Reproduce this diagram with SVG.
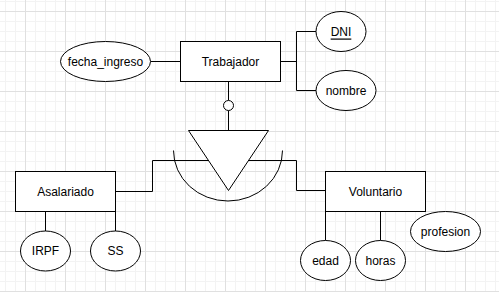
<svg xmlns="http://www.w3.org/2000/svg" width="499" height="292" viewBox="0 0 499 292">
<defs>
<pattern id="grid" patternUnits="userSpaceOnUse" x="25" y="11" width="40" height="40">
<path d="M10.5 0V40M20.5 0V40M30.5 0V40M0 10.5H40M0 20.5H40M0 30.5H40" stroke="#f3f3f3" stroke-width="1" fill="none"/>
<path d="M0.5 0V40M0 0.5H40" stroke="#e0e0e0" stroke-width="1" fill="none"/>
</pattern>
</defs>
<style>
.shape{fill:#fff;stroke:#000;stroke-width:1}
.line{fill:none;stroke:#000;stroke-width:1}
text{font-family:"Liberation Sans",Arial,sans-serif;font-size:12px;fill:#000;text-anchor:middle;dominant-baseline:central}
</style>
<rect width="499" height="292" fill="#fff"/>
<rect width="499" height="292" fill="url(#grid)"/>
<g id="connectors">
<path class="line" d="M150.5 61.5H180.5"/>
<path class="line" d="M280.5 61.5H296.5M296.5 31.5V90.5M296.5 31.5H316.5M296.5 90.5H316.5"/>
<path class="line" d="M228.5 81.5V100.5M228.5 110.5V130.5"/>
<path class="line" d="M115.5 191.5H152.5V160.5H208"/>
<path class="line" d="M249 160.5H296.5V190.5H325.5"/>
<path class="line" d="M45.5 211.5V231M115.5 211.5V231"/>
<path class="line" d="M325.5 211.5V240.5M380.5 211.5V240.5"/>
</g>
<g id="inheritance">
<circle class="shape" cx="228.5" cy="105.5" r="5"/>
<path class="line" d="M173.5 150.5A54.5 50.5 0 0 0 282.5 150.5"/>
<path class="shape" d="M188.5 130.5H268.5L228.5 190.5Z"/>
</g>
<g id="trabajador">
<rect class="shape" x="180.5" y="41.5" width="100" height="40"/>
<text x="230.5" y="61.5">Trabajador</text>
</g>
<g id="fecha_ingreso">
<ellipse class="shape" cx="105.5" cy="61.5" rx="45" ry="20"/>
<text x="105.5" y="61.5">fecha_ingreso</text>
</g>
<g id="dni">
<ellipse class="shape" cx="341" cy="31.5" rx="25" ry="20"/>
<text x="341" y="31.5" text-decoration="underline">DNI</text>
</g>
<g id="nombre">
<ellipse class="shape" cx="346" cy="90.5" rx="30" ry="20"/>
<text x="346" y="90.5">nombre</text>
</g>
<g id="asalariado">
<rect class="shape" x="15.5" y="171.5" width="100" height="40"/>
<text x="65.5" y="191.5">Asalariado</text>
</g>
<g id="irpf">
<ellipse class="shape" cx="45.5" cy="251" rx="25" ry="20"/>
<text x="45.5" y="251">IRPF</text>
</g>
<g id="ss">
<ellipse class="shape" cx="115.5" cy="251" rx="25" ry="20"/>
<text x="115.5" y="251">SS</text>
</g>
<g id="voluntario">
<rect class="shape" x="325.5" y="171.5" width="100" height="40"/>
<text x="375.5" y="191.5">Voluntario</text>
</g>
<g id="edad">
<ellipse class="shape" cx="325.5" cy="260.5" rx="25" ry="20"/>
<text x="325.5" y="260.5">edad</text>
</g>
<g id="horas">
<ellipse class="shape" cx="380.5" cy="260.5" rx="25" ry="20"/>
<text x="380.5" y="260.5">horas</text>
</g>
<g id="profesion">
<ellipse class="shape" cx="445.5" cy="231.5" rx="35" ry="20"/>
<text x="445.5" y="231.5">profesion</text>
</g>
</svg>
